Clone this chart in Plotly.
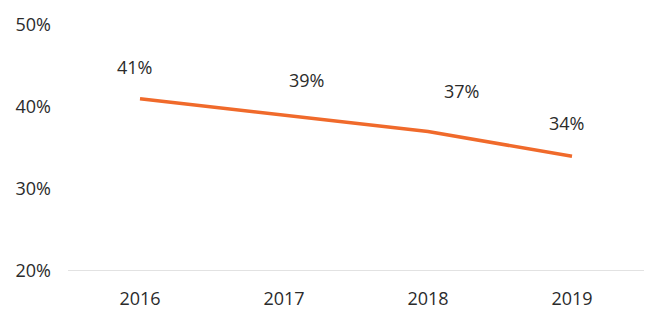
import plotly.graph_objects as go

years = ["2016", "2017", "2018", "2019"]
values = [41, 39, 37, 34]
labels = ["41%", "39%", "37%", "34%"]
label_dx = [-6, 22, 33, -6]
label_dy = [32, 35, 41, 33]
y_ticks = [20, 30, 40, 50]
y_tick_text = ["20%", "30%", "40%", "50%"]

font_family = "Open Sans, sans-serif"
text_color = "#2b2b2b"
line_color = "#F06A2B"
fs = 18

fig = go.Figure()
fig.add_trace(go.Scatter(x=years, y=values, mode="lines",
                         line=dict(color=line_color, width=3.5),
                         hoverinfo="skip"))

for i, (v, t, dx, dy) in enumerate(zip(values, labels, label_dx, label_dy)):
    fig.add_annotation(x=i, y=v, xref="x", yref="y", text=t, showarrow=False,
                       xshift=dx, yshift=dy,
                       font=dict(family=font_family, size=fs, color=text_color))

fig.update_layout(
    width=660, height=322,
    margin=dict(l=68, r=16, t=21, b=48),
    paper_bgcolor="white", plot_bgcolor="white",
    showlegend=False,
    font=dict(family=font_family, size=fs, color=text_color),
    xaxis=dict(type="category", range=[-0.5, len(years) - 0.5],
               showgrid=False, showline=False, zeroline=False,
               ticks="", ticklabelstandoff=15,
               tickfont=dict(size=fs, color=text_color)),
    yaxis=dict(range=[20, 50], tickvals=y_ticks, ticktext=y_tick_text,
               showgrid=False, zeroline=False, showline=False, ticks="",
               ticklabelstandoff=16,
               tickfont=dict(size=fs, color=text_color)),
    shapes=[dict(type="line", xref="paper", yref="y", x0=0, x1=1, y0=20, y1=20,
                 line=dict(color="#D9D9D9", width=1.5), layer="below")],
)

fig.write_html("out.html")
